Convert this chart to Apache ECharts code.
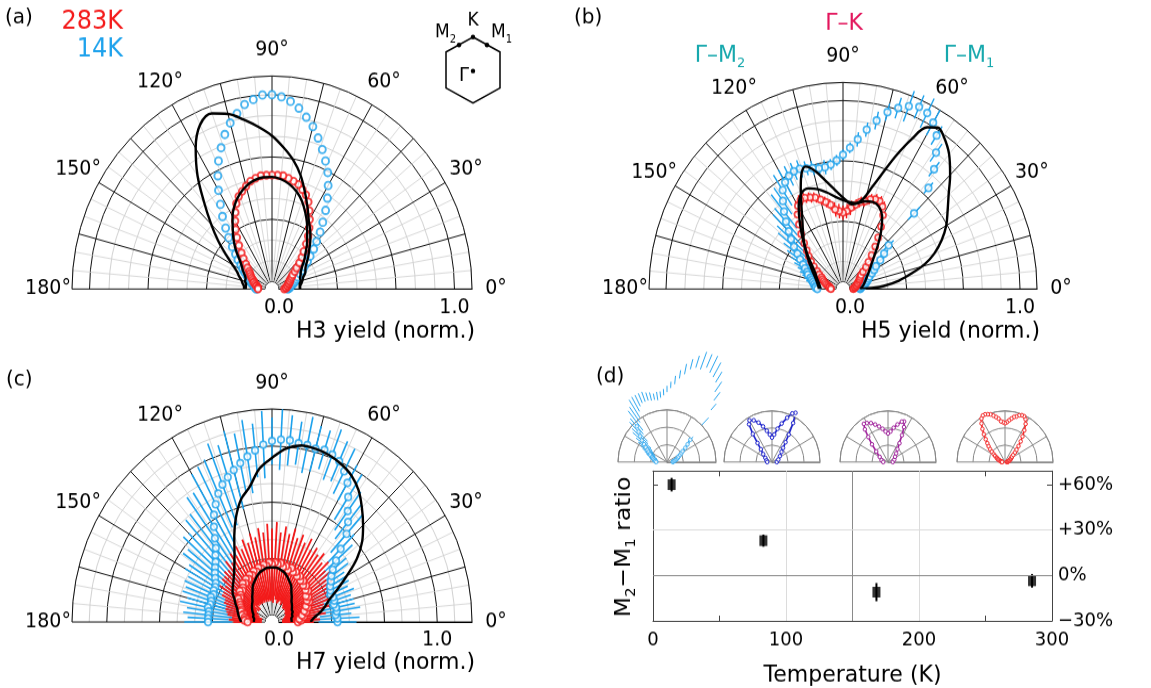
<!DOCTYPE html>
<html><head><meta charset="utf-8">
<script src="https://cdn.jsdelivr.net/npm/echarts@6/dist/echarts.min.js"></script>
<style>html,body{margin:0;padding:0;background:#fff;width:1151px;height:688px}
#c{width:1151px;height:646px;transform:scaleY(1.065);transform-origin:0 0}</style>
</head><body><div id="c"></div>
<script>
// ---------- data ----------
const ang3 = [0,3,6,9,12,15,18,21,24,27,30,33,36,39,42,45,48,51,54,57,60,63,66,69,72,75,78,81,84,87,90,93,96,99,102,105,108,111,114,117,120,123,126,129,132,135,138,141,144,147,150,153,156,159,162,165,168,171,174,177,180];
const ang5 = [0,5,10,15,20,25,30,35,40,45,50,55,60,65,70,75,80,85,90,95,100,105,110,115,120,125,130,135,140,145,150,155,160,165,170,175,180];
const angleTicks = [0,30,60,90,120,150,180];
const radialTicks = [0,1];

// (a) H3
const a283 = [0.03,0.04,0.04,0.05,0.05,0.06,0.06,0.07,0.07,0.08, 0.09,0.10,0.12,0.14,0.17,0.20,0.23,0.27,0.31,0.35, 0.39,0.43,0.47,0.50,0.52,0.54,0.55,0.56,0.57,0.57, 0.57,0.57,0.57,0.56,0.55,0.53,0.51,0.49,0.46,0.42, 0.38,0.34,0.30,0.26,0.22,0.19,0.16,0.14,0.12,0.11, 0.10,0.09,0.08,0.07,0.07,0.06,0.05,0.05,0.04,0.04,0.04];
const a14 = [0.05,0.06,0.06,0.07,0.08,0.09,0.10,0.11,0.12,0.14, 0.16,0.18,0.21,0.24,0.28,0.32,0.37,0.42,0.48,0.54, 0.60,0.66,0.71,0.76,0.81,0.86,0.90,0.94,0.97,0.99, 1.00,1.00,0.98,0.96,0.92,0.88,0.83,0.77,0.71,0.64, 0.57,0.50,0.44,0.38,0.33,0.28,0.24,0.21,0.18,0.16, 0.14,0.12,0.11,0.10,0.09,0.08,0.07,0.06,0.06,0.05,0.05];
const aFit1 = [0.12,0.12,0.13,0.14,0.15,0.17,0.18,0.20,0.23,0.26, 0.30,0.34,0.38,0.44,0.51,0.59,0.66,0.72,0.78,0.83, 0.88,0.93,0.96,0.93,0.83,0.70,0.56,0.45,0.36,0.28, 0.22,0.18,0.16,0.14,0.13,0.12,0.12];
const aFit2 = [0.12,0.12,0.12,0.13,0.13,0.14,0.15,0.17,0.20,0.23, 0.27,0.31,0.36,0.41,0.46,0.50,0.53,0.55,0.56,0.56, 0.55,0.53,0.50,0.46,0.41,0.35,0.30,0.25,0.20,0.17, 0.15,0.13,0.12,0.12,0.11,0.11,0.11];

// (b) H5
const b14 = [0.06,0.06,0.07,0.08,0.09,0.10,0.11,0.12,0.13,0.15, 0.17,0.19,0.23,0.27,0.32,0.55,0.71,0.81,0.89,0.97, 1.02,1.05,1.06,1.04,1.01,0.97,0.91,0.85,0.79,0.74, 0.70,0.67,0.65,0.64,0.64,0.65,0.66,0.67,0.67,0.66, 0.64,0.61,0.56,0.51,0.46,0.41,0.37,0.33,0.29,0.26, 0.23,0.21,0.19,0.18,0.16,0.15,0.14,0.13,0.12,0.12,0.11];
const b14err = [0.02,0.02,0.02,0.03,0.02,0.03,0.02,0.03,0.03,0.02, 0.03,0.03,0.04,0.03,0.04,0.05,0.04,0.05,0.06,0.06, 0.08,0.09,0.07,0.09,0.06,0.05,0.05,0.04,0.04,0.03, 0.03,0.03,0.03,0.04,0.03,0.04,0.04,0.05,0.05,0.06, 0.08,0.10,0.09,0.12,0.10,0.13,0.11,0.12,0.10,0.09, 0.08,0.07,0.06,0.05,0.05,0.04,0.04,0.03,0.03,0.03,0.02];
const b283 = [0.02,0.02,0.03,0.03,0.04,0.04,0.05,0.05,0.06,0.07, 0.07,0.08,0.09,0.11,0.14,0.17,0.21,0.26,0.31,0.37, 0.43,0.47,0.49,0.49,0.48,0.46,0.45,0.43,0.41,0.39, 0.38,0.39,0.40,0.43,0.45,0.47,0.49,0.50,0.51,0.51, 0.49,0.45,0.40,0.35,0.30,0.26,0.23,0.20,0.17,0.14, 0.12,0.10,0.09,0.08,0.07,0.06,0.05,0.04,0.04,0.03,0.03];
const b283err = [0.01,0.01,0.01,0.01,0.01,0.01,0.01,0.01,0.01,0.01, 0.01,0.01,0.01,0.02,0.02,0.02,0.02,0.02,0.02,0.02, 0.02,0.03,0.03,0.03,0.03,0.03,0.03,0.03,0.04,0.04, 0.04,0.04,0.04,0.03,0.03,0.03,0.03,0.03,0.03,0.03, 0.03,0.02,0.02,0.02,0.02,0.02,0.02,0.02,0.02,0.02, 0.01,0.01,0.01,0.01,0.01,0.01,0.01,0.01,0.01,0.01,0.01];
const bFit1Ang = [0,2,4,8,12,16,20,25,30,35,40,45,50,55,58,61,64,67,70,73,76,80,84,88,92,96,100,104,108,111,114,118,122,126,132,140,150,160,170,180];
const bFit1 = [0.06,0.14,0.20,0.29,0.37,0.46,0.53,0.60,0.66,0.71,0.77,0.85,0.93,0.99,1.01,0.98,0.88,0.76,0.64,0.55,0.48,0.44,0.43,0.45,0.48,0.52,0.57,0.63,0.67,0.64,0.57,0.48,0.41,0.36,0.30,0.23,0.17,0.13,0.11,0.10];
const bFit2Ang = [0,10,20,30,40,45,50,55,60,65,70,75,80,85,90,95,100,105,110,115,120,125,130,135,140,150,160,170,180];
const bFit2 = [0.06,0.08,0.10,0.13,0.18,0.22,0.28,0.35,0.42,0.46,0.47,0.46,0.44,0.44,0.45,0.47,0.50,0.53,0.55,0.54,0.48,0.40,0.33,0.27,0.22,0.15,0.12,0.10,0.09];

// (c) H7
const c14 = [0.37,0.37,0.36,0.37,0.37,0.36,0.37,0.37,0.36,0.37, 0.38,0.40,0.42,0.45,0.50,0.57,0.66,0.72,0.77,0.84, 0.91,0.96,1.00,1.02,1.03,1.02,1.03,1.03,1.04,1.04, 1.03,1.01,0.98,0.95,0.92,0.89,0.86,0.83,0.79,0.74, 0.69,0.63,0.57,0.52,0.49,0.46,0.44,0.42,0.40,0.38, 0.37,0.37,0.36,0.37,0.36,0.36,0.37,0.36,0.36,0.36,0.36];
const c14err = [0.12,0.14,0.10,0.15,0.12,0.13,0.11,0.14,0.12,0.13, 0.12,0.10,0.13,0.11,0.14,0.12,0.15,0.13,0.14,0.16, 0.12,0.15,0.13,0.16,0.12,0.14,0.17,0.13,0.15,0.18, 0.14,0.20,0.16,0.22,0.18,0.24,0.20,0.26,0.22,0.25, 0.28,0.24,0.30,0.26,0.28,0.24,0.27,0.22,0.25,0.20, 0.22,0.18,0.20,0.17,0.19,0.15,0.18,0.14,0.16,0.13,0.15];
const c283 = [0.12,0.14,0.13,0.16,0.15,0.18,0.17,0.20,0.19,0.22, 0.21,0.23,0.22,0.25,0.24,0.26,0.25,0.27,0.26,0.28, 0.27,0.29,0.28,0.30,0.28,0.30,0.29,0.31,0.30,0.31, 0.30,0.31,0.29,0.30,0.28,0.29,0.27,0.28,0.26,0.27, 0.25,0.26,0.24,0.25,0.23,0.22,0.23,0.21,0.20,0.21, 0.19,0.18,0.17,0.16,0.16,0.14,0.15,0.13,0.12,0.13,0.11];
const c283err = [0.10,0.12,0.11,0.14,0.12,0.15,0.13,0.16,0.14,0.17, 0.15,0.18,0.16,0.19,0.17,0.20,0.18,0.21,0.19,0.20, 0.18,0.22,0.19,0.21,0.20,0.23,0.20,0.22,0.19,0.24, 0.21,0.23,0.20,0.22,0.19,0.21,0.18,0.20,0.17,0.19, 0.16,0.18,0.15,0.17,0.14,0.16,0.13,0.15,0.12,0.14, 0.12,0.13,0.11,0.12,0.10,0.12,0.10,0.11,0.09,0.10,0.09];
const cFit1 = [0.20,0.22,0.26,0.30,0.34,0.41,0.50,0.61,0.70,0.77, 0.84,0.91,0.96,0.99,1.01,1.02,1.02,0.99,0.93,0.87, 0.77,0.71,0.62,0.52,0.43,0.37,0.33,0.30,0.28,0.26, 0.23,0.21,0.19,0.18,0.17,0.16,0.15];
const cFit2 = [0.08,0.08,0.08,0.09,0.09,0.10,0.10,0.11,0.12,0.13, 0.15,0.17,0.20,0.22,0.24,0.26,0.27,0.28,0.28,0.28, 0.27,0.26,0.24,0.22,0.20,0.17,0.15,0.13,0.12,0.11, 0.10,0.09,0.08,0.08,0.07,0.07,0.07];

// (d) insets (83K, 168K) and ratio vs temperature
const i83Ang = [0,20,35,45,50,54,57,60,63,66,70,75,80,85,90,95,100,105,110,115,120,123,126,129,133,140,150,165,180];
const i83 = [0.05,0.07,0.10,0.14,0.18,0.24,0.32,0.44,0.54,0.52,0.46,0.39,0.33,0.27,0.24,0.27,0.31,0.36,0.41,0.45,0.47,0.44,0.34,0.24,0.17,0.12,0.08,0.06,0.05];
const i168Ang = [0,20,35,45,52,57,61,64,67,70,75,80,85,90,95,100,105,110,115,120,124,127,130,134,140,150,165,180];
const i168 = [0.05,0.07,0.09,0.12,0.16,0.22,0.30,0.38,0.43,0.42,0.38,0.34,0.30,0.28,0.30,0.33,0.36,0.39,0.42,0.44,0.45,0.40,0.32,0.24,0.16,0.10,0.07,0.05];
const temps = [14, 83, 168, 285];
const ratio = [60, 23, -11, -3.5];
const ratioErr = [4.5, 4, 6, 4.5];
const tempTicks = [0, 100, 200, 300];
const ratioTicks = [-30, 0, 30, 60];
const ratioTickLabels = ['\u221230%', '0%', '+30%', '+60%'];

// ---------- styling / layout ----------
const SY = 1.065;                 // vertical stretch of the figure (applied by CSS)
const Y = v => v / SY;            // page y -> chart y
const FONT = '"DejaVu Sans", sans-serif';
const C_BLUE = '#1ea2ec', C_RED = '#f41a1a', C_TEAL = '#16a8ad', C_CRIM = '#e3155c';
const C_I14 = '#2ea8f0', C_I83 = '#1c22cc', C_I168 = '#a0229c', C_I283 = '#f42828';
const HOLE = 7;
const mainPolars = [
  {center: [272, Y(289)], R: 200, max: 1.1},
  {center: [843, Y(289)], R: 194, max: 1.1},
  {center: [272, Y(622)], R: 200, max: 1.22}
];
const insetPolars = [
  {center: [667, Y(462)], R: 49},
  {center: [772, Y(462)], R: 48},
  {center: [888, Y(462)], R: 48},
  {center: [1005, Y(462)], R: 48}
];

const pts = (rs, as) => rs.map((r, i) => [r, as[i]]);
const errPts = (rs, as, es) => rs.map((r, i) => [r, as[i], es[i]]);
const halfAngle = {type: 'value', min: 0, max: 180, startAngle: 0, endAngle: 180, clockwise: false};

function mainAngle(pi) {
  return Object.assign({polarIndex: pi, interval: 15,
    axisLine: {show: false}, axisTick: {show: false}, axisLabel: {show: false},
    splitLine: {show: true, lineStyle: {color: '#111', width: 1}},
    minorTick: {show: false, splitNumber: 3},
    minorSplitLine: {show: true, lineStyle: {color: '#cfcfcf', width: 0.8}}}, halfAngle);
}
function mainRadius(pi, max) {
  return {polarIndex: pi, type: 'value', min: 0, max: max, interval: 1/9,
    axisLine: {show: true, lineStyle: {color: '#000', width: 1.2}},
    axisTick: {show: false},
    axisLabel: {show: true, fontSize: 19, fontFamily: FONT, color: '#000', margin: -27,
      formatter: v => { const t = radialTicks.find(x => Math.abs(x - v) < 1e-4); return t === undefined ? '' : t.toFixed(1); }},
    splitLine: {show: true, lineStyle: {color: ['#111', '#d2d2d2', '#d2d2d2'], width: 1}}};
}
// outer rim of each main plot (a polar with no hole, so the arc stops at 0 and 180 degrees)
function rimAngle(pi, color) {
  return Object.assign({polarIndex: pi, axisLine: {show: true, lineStyle: {color: color, width: 1}},
    axisTick: {show: false}, axisLabel: {show: false}, splitLine: {show: false}}, halfAngle);
}
function rimRadius(pi) {
  return {polarIndex: pi, type: 'value', min: 0, max: 1, axisLine: {show: false}, axisTick: {show: false},
    axisLabel: {show: false}, splitLine: {show: false}};
}
function insetAngle(pi) {
  return Object.assign({polarIndex: pi, interval: 30,
    axisLine: {show: true, lineStyle: {color: '#888', width: 1}}, axisTick: {show: false}, axisLabel: {show: false},
    splitLine: {show: true, lineStyle: {color: '#888', width: 1}}}, halfAngle);
}
function insetRadius(pi) {
  return {polarIndex: pi, type: 'value', min: 0, max: 0.5, interval: 0.5/3,
    axisLine: {show: true, lineStyle: {color: '#888', width: 1}}, axisTick: {show: false}, axisLabel: {show: false},
    splitLine: {show: true, lineStyle: {color: '#888', width: 1}}};
}
function angleLabels(pi) {
  const P = mainPolars[pi];
  const rl = (P.R + 24 - HOLE) / (P.R - HOLE) * P.max;
  return {type: 'custom', coordinateSystem: 'polar', polarIndex: pi, silent: true, clip: false, z: 10,
    data: angleTicks.map(a => [rl, a]),
    renderItem: (params, api) => {
      const c = api.coord([api.value(0), api.value(1)]);
      return {type: 'text', x: c[0], y: c[1],
        style: {text: Math.round(api.value(1)) + '\u00b0', fontSize: 19, fontFamily: FONT, fill: '#000', align: 'center', verticalAlign: 'middle'}};
    }};
}
function markers(pi, rs, as, color, size, bw) {
  return {type: 'scatter', coordinateSystem: 'polar', polarIndex: pi, data: pts(rs, as), symbol: 'circle', symbolSize: size,
    itemStyle: {color: '#fff', borderColor: color, borderWidth: bw}, z: 4, silent: true};
}
function fit(pi, rs, as) {
  return {type: 'line', coordinateSystem: 'polar', polarIndex: pi, data: pts(rs, as), smooth: 0.35, symbol: 'none',
    lineStyle: {color: '#000', width: 2.4}, z: 6, silent: true, clip: false};
}
function errBars(pi, rs, as, es, color, w) {
  return {type: 'custom', coordinateSystem: 'polar', polarIndex: pi, data: errPts(rs, as, es), z: 3, silent: true, clip: false,
    renderItem: (params, api) => {
      const r = api.value(0), a = api.value(1), e = api.value(2);
      const p1 = api.coord([Math.max(0, r - e), a]);
      const p2 = api.coord([r + e, a]);
      return {type: 'line', shape: {x1: p1[0], y1: p1[1], x2: p2[0], y2: p2[1]}, style: {stroke: color, lineWidth: w}};
    }};
}
function insetLine(pi, rs, as, color) {
  return {type: 'line', coordinateSystem: 'polar', polarIndex: pi, data: pts(rs, as), symbol: 'circle', symbolSize: 3.5,
    showSymbol: true, itemStyle: {color: '#fff', borderColor: color, borderWidth: 1}, lineStyle: {color: color, width: 1.6},
    z: 4, silent: true, clip: false};
}
function txt(x, y, text, size, color, align, vAlign, extra) {
  return Object.assign({type: 'text', x: x, y: Y(y), silent: true, z: 50,
    style: {text: text, fontSize: size, fontFamily: FONT, fill: color, align: align || 'left', verticalAlign: vAlign || 'middle'}}, extra || {});
}
function subTxt(x, y, text, size, subSize, color, align, extra) {
  const t = txt(x, y, text, size, color, align, 'middle', extra);
  t.style.lineHeight = size + 6;
  t.style.rich = {s: {fontSize: subSize, fontFamily: FONT, fill: color, verticalAlign: 'bottom', lineHeight: subSize + 2}};
  return t;
}
const hexPts = [[473, 37], [500, 52], [500, 88], [473, 103], [446, 88], [446, 52]].map(p => [p[0], Y(p[1])]);
const dot = (x, y) => ({type: 'circle', silent: true, z: 51, shape: {cx: x, cy: Y(y), r: 2.2}, style: {fill: '#000'}});

const polars = [];
mainPolars.forEach(P => polars.push({center: P.center, radius: [HOLE, P.R]}));
insetPolars.forEach(P => polars.push({center: P.center, radius: [0, P.R]}));
mainPolars.forEach(P => polars.push({center: P.center, radius: [0, P.R]}));   // rims: 7, 8, 9

const chart = echarts.init(document.getElementById('c'), null, {renderer: 'canvas'});
chart.setOption({
  animation: false,
  backgroundColor: '#fff',
  polar: polars,
  angleAxis: [mainAngle(0), mainAngle(1), mainAngle(2), insetAngle(3), insetAngle(4), insetAngle(5), insetAngle(6),
    rimAngle(7, '#111'), rimAngle(8, '#111'), rimAngle(9, '#111')],
  radiusAxis: [mainRadius(0, 1.1), mainRadius(1, 1.1), mainRadius(2, 1.22), insetRadius(3), insetRadius(4), insetRadius(5), insetRadius(6),
    rimRadius(7), rimRadius(8), rimRadius(9)],
  grid: [{left: 653, top: Y(471), width: 399, height: (623 - 471) / SY, show: false}],
  xAxis: [
    {gridIndex: 0, type: 'value', min: 0, max: 300, interval: 50, position: 'bottom',
      axisLine: {onZero: false, lineStyle: {color: '#444'}},
      axisTick: {inside: true, length: 5, lineStyle: {color: '#444'}},
      axisLabel: {fontSize: 18, fontFamily: FONT, color: '#000', margin: 9,
        formatter: v => tempTicks.includes(v) ? String(v) : ''},
      splitLine: {show: false},
      name: 'Temperature (K)', nameLocation: 'middle', nameGap: 40,
      nameTextStyle: {fontSize: 22, fontFamily: FONT, color: '#000'}},
    {gridIndex: 0, type: 'value', min: 0, max: 300, interval: 50, position: 'top',
      axisLine: {onZero: false, lineStyle: {color: '#444'}},
      axisTick: {inside: true, length: 5, lineStyle: {color: '#444'}},
      axisLabel: {show: false}, splitLine: {show: false}}
  ],
  yAxis: [
    {gridIndex: 0, type: 'value', min: -30, max: 69, interval: 30, position: 'right',
      axisLine: {onZero: false, lineStyle: {color: '#444'}},
      axisTick: {inside: true, length: 5, lineStyle: {color: '#444'}},
      axisLabel: {fontSize: 18, fontFamily: FONT, color: '#000', margin: 6,
        formatter: v => { const k = ratioTicks.indexOf(v); return k < 0 ? '' : ratioTickLabels[k]; }},
      splitLine: {show: false}},
    {gridIndex: 0, type: 'value', min: -30, max: 69, interval: 30, position: 'left',
      axisLine: {onZero: false, lineStyle: {color: '#444'}},
      axisTick: {inside: true, length: 5, lineStyle: {color: '#444'}},
      axisLabel: {show: false}, splitLine: {show: false}}
  ],
  series: [
    angleLabels(0), angleLabels(1), angleLabels(2),
    // (a)
    markers(0, a14, ang3, C_BLUE, 7, 1.9),
    markers(0, a283, ang3, C_RED, 6.5, 1.9),
    fit(0, aFit1, ang5),
    fit(0, aFit2, ang5),
    // (b)
    errBars(1, b14, ang3, b14err, C_BLUE, 1.4),
    errBars(1, b283, ang3, b283err, C_RED, 1.4),
    markers(1, b14, ang3, C_BLUE, 6.5, 1.7),
    markers(1, b283, ang3, C_RED, 6, 1.7),
    fit(1, bFit1, bFit1Ang),
    fit(1, bFit2, bFit2Ang),
    // (c)
    errBars(2, c14, ang3, c14err, C_BLUE, 1.6),
    errBars(2, c283, ang3, c283err, C_RED, 1.8),
    markers(2, c14, ang3, C_BLUE, 6.5, 1.7),
    markers(2, c283, ang3, C_RED, 6.5, 1.7),
    fit(2, cFit1, ang5),
    fit(2, cFit2, ang5),
    // (d) insets
    errBars(3, b14, ang3, b14err, C_I14, 1),
    markers(3, b14, ang3, C_I14, 3.5, 1),
    insetLine(4, i83, i83Ang, C_I83),
    insetLine(5, i168, i168Ang, C_I168),
    insetLine(6, b283, ang3, C_I283),
    // (d) ratio
    {type: 'custom', coordinateSystem: 'cartesian2d', xAxisIndex: 0, yAxisIndex: 0, z: 3, silent: true,
      data: temps.map((t, i) => [t, ratio[i], ratioErr[i]]),
      renderItem: (params, api) => {
        const p1 = api.coord([api.value(0), api.value(1) - api.value(2)]);
        const p2 = api.coord([api.value(0), api.value(1) + api.value(2)]);
        return {type: 'line', shape: {x1: p1[0], y1: p1[1], x2: p2[0], y2: p2[1]}, style: {stroke: '#000', lineWidth: 2}};
      }},
    {type: 'scatter', xAxisIndex: 0, yAxisIndex: 0, z: 4, silent: true,
      data: temps.map((t, i) => [t, ratio[i]]), symbol: 'rect', symbolSize: [8, 10], itemStyle: {color: '#000'},
      markLine: {silent: true, symbol: 'none', label: {show: false}, animation: false,
        data: [
          {xAxis: 100, lineStyle: {color: '#dcdcdc', width: 1, type: 'solid'}},
          {xAxis: 200, lineStyle: {color: '#dcdcdc', width: 1, type: 'solid'}},
          {xAxis: 150, lineStyle: {color: '#8a8a8a', width: 1, type: 'solid'}},
          {yAxis: 30, lineStyle: {color: '#dcdcdc', width: 1, type: 'solid'}},
          {yAxis: 0, lineStyle: {color: '#8a8a8a', width: 1, type: 'solid'}}
        ]}}
  ],
  graphic: [
    txt(5, 18, '(a)', 20, '#000'),
    txt(123, 22, '283K', 24, C_RED, 'right'),
    txt(123, 50, '14K', 24, C_BLUE, 'right'),
    {type: 'polygon', silent: true, z: 50, shape: {points: hexPts}, style: {fill: 'none', stroke: '#000', lineWidth: 1.5}},
    dot(473, 37), dot(487, 45), dot(459, 45), dot(473, 71),
    txt(473, 21, 'K', 17, '#000', 'center'),
    subTxt(456, 33, 'M{s|2}', 17, 10, '#000', 'right'),
    subTxt(491, 33, 'M{s|1}', 17, 10, '#000', 'left'),
    txt(464, 76, '\u0393', 18, '#000', 'center'),
    txt(475, 331, 'H3 yield (norm.)', 22, '#000', 'right'),
    txt(574, 18, '(b)', 20, '#000'),
    txt(844, 24, '\u0393\u2013K', 22, C_CRIM, 'center'),
    subTxt(720, 56, '\u0393\u2013M{s|2}', 22, 13, C_TEAL, 'center'),
    subTxt(969, 56, '\u0393\u2013M{s|1}', 22, 13, C_TEAL, 'center'),
    txt(1040, 331, 'H5 yield (norm.)', 22, '#000', 'right'),
    txt(6, 380, '(c)', 20, '#000'),
    txt(475, 663, 'H7 yield (norm.)', 22, '#000', 'right'),
    txt(596, 377, '(d)', 20, '#000'),
    subTxt(624, 547, 'M{s|2}\u2212M{s|1} ratio', 22, 14, '#000', 'center', {rotation: Math.PI / 2})
  ]
});
</script>
</body></html>
